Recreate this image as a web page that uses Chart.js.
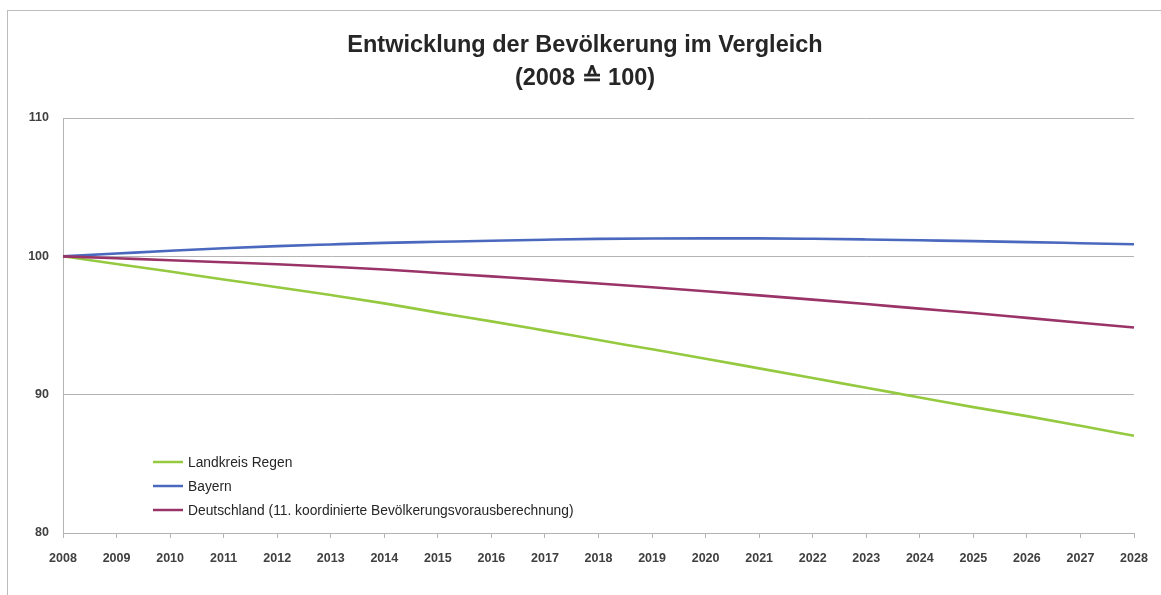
<!DOCTYPE html>
<html lang="de">
<head>
<meta charset="utf-8">
<title>Entwicklung der Bevölkerung im Vergleich</title>
<script src="https://cdn.jsdelivr.net/npm/chart.js@4/dist/chart.umd.min.js"></script>
<style>
    html, body { margin: 0; padding: 0; background: #ffffff; overflow: hidden; }
    #frame {
        position: absolute; left: 7px; top: 10px;
        width: 1180px; height: 620px;
        border: 1px solid #bcbcbc;
    }
    #wrap { position: absolute; left: 0; top: 0; width: 1161px; height: 595px; }
</style>
</head>
<body>
<div id="frame"></div>
<div id="wrap"><canvas id="popChart"></canvas></div>
<script>
// Jahre (x-Achse)
const years = ['2008', '2009', '2010', '2011', '2012', '2013', '2014', '2015', '2016', '2017', '2018',
               '2019', '2020', '2021', '2022', '2023', '2024', '2025', '2026', '2027', '2028'];

// Index 2008 = 100
const landkreisRegen = [100, 99.45, 98.9, 98.33, 97.77, 97.2, 96.6, 95.93, 95.3, 94.63, 93.95,
                        93.28, 92.6, 91.9, 91.2, 90.5, 89.8, 89.1, 88.45, 87.75, 87.03];
const bayern = [100, 100.2, 100.4, 100.58, 100.74, 100.86, 100.97, 101.05, 101.13, 101.2, 101.26,
                101.29, 101.3, 101.3, 101.27, 101.22, 101.16, 101.1, 101.03, 100.95, 100.87];
const deutschland = [100, 99.86, 99.72, 99.57, 99.43, 99.25, 99.05, 98.8, 98.55, 98.3, 98.04,
                     97.77, 97.48, 97.18, 96.87, 96.55, 96.22, 95.9, 95.55, 95.2, 94.85];

const seriesLabels = ['Landkreis Regen', 'Bayern', 'Deutschland (11. koordinierte Bevölkerungsvorausberechnung)'];
const titleLines = ['Entwicklung der Bevölkerung im Vergleich', '(2008 \u2259 100)'];
const yTicks = [80, 90, 100, 110];

const colors = {
    regen: '#94c940',
    bayern: '#4a68bd',
    deutschland: '#9a3468',
    grid: '#b4b4b4',
    text: '#404040'
};

/**
 * Titel (zentriert über dem Diagramm, leicht nach rechts versetzt wie im Original)
 */
const chartTitle = {
    id: 'chartTitle',
    afterDraw(chart) {
        const ctx = chart.ctx;
        ctx.save();
        ctx.font = 'bold 23.5px "Liberation Sans", Arial, sans-serif';
        ctx.fillStyle = '#262626';
        ctx.textAlign = 'center';
        ctx.textBaseline = 'middle';
        titleLines.forEach(function(line, i) {
            ctx.fillText(line, 585, 46 + i * 33);
        });
        ctx.restore();
    }
};

/**
 * Legende innerhalb der Zeichenfläche (unten links)
 */
const innerLegend = {
    id: 'innerLegend',
    afterDraw(chart) {
        const ctx = chart.ctx;
        const area = chart.chartArea;
        const x0 = area.left + 90;
        const y0 = area.bottom - 71;
        ctx.save();
        ctx.font = '13.8px "Liberation Sans", Arial, sans-serif';
        ctx.textBaseline = 'middle';
        chart.data.datasets.forEach(function(ds, i) {
            const y = y0 + i * 24;
            ctx.strokeStyle = ds.borderColor;
            ctx.lineWidth = 2.5;
            ctx.beginPath();
            ctx.moveTo(x0, y);
            ctx.lineTo(x0 + 30, y);
            ctx.stroke();
            ctx.fillStyle = '#262626';
            ctx.fillText(ds.label, x0 + 35, y + 1);
        });
        ctx.restore();
    }
};

function lineDataset(label, data, color, order) {
    return {
        label: label,
        data: data,
        borderColor: color,
        backgroundColor: color,
        borderWidth: 2.6,
        pointRadius: 0,
        fill: false,
        tension: 0.4,
        cubicInterpolationMode: 'monotone',
        order: order
    };
}

new Chart(document.getElementById('popChart'), {
    type: 'line',
    data: {
        labels: years,
        datasets: [
            lineDataset(seriesLabels[0], landkreisRegen, colors.regen, 2),
            lineDataset(seriesLabels[1], bayern, colors.bayern, 1),
            lineDataset(seriesLabels[2], deutschland, colors.deutschland, 0)
        ]
    },
    options: {
        responsive: true,
        maintainAspectRatio: false,
        animation: false,
        layout: {
            padding: { left: 0, right: 27, top: 118, bottom: 0 }
        },
        plugins: {
            legend: { display: false },
            tooltip: { enabled: false },
            title: { display: false }
        },
        scales: {
            x: {
                offset: false,
                grid: {
                    drawOnChartArea: false,
                    drawTicks: true,
                    tickLength: 5,
                    color: colors.grid
                },
                border: { display: true, color: colors.grid, width: 1 },
                ticks: {
                    color: colors.text,
                    autoSkip: false,
                    maxRotation: 0,
                    padding: 13,
                    font: { family: '"Liberation Sans", Arial, sans-serif', size: 12.5, weight: 'bold' }
                },
                afterFit: function(scale) { scale.height = 62; }
            },
            y: {
                min: 80,
                max: 110,
                afterBuildTicks: function(scale) {
                    scale.ticks = yTicks.map(function(v) { return { value: v }; });
                },
                grid: {
                    color: colors.grid,
                    drawTicks: false
                },
                border: { display: true, color: colors.grid, width: 1 },
                ticks: {
                    color: colors.text,
                    padding: 14,
                    font: { family: '"Liberation Sans", Arial, sans-serif', size: 12.5, weight: 'bold' }
                },
                afterFit: function(scale) { scale.width = 63; }
            }
        }
    },
    plugins: [chartTitle, innerLegend]
});
</script>
</body>
</html>
